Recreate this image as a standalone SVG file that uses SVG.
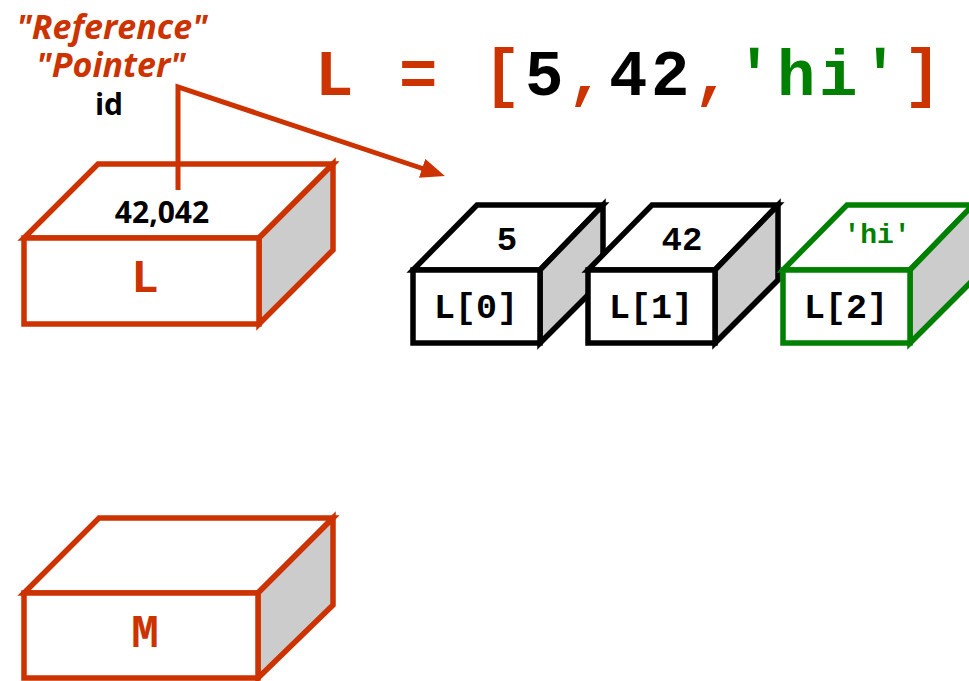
<svg xmlns="http://www.w3.org/2000/svg" width="969" height="681" viewBox="0 0 969 681">
<style>
  .red { stroke:#CC3300; }
  .blk { stroke:#000000; }
  .grn { stroke:#008000; }
  .box path, .box rect { stroke-width:5.5; stroke-linejoin:miter; }
  .face { fill:#FFFFFF; }
  .side { fill:#CCCCCC; }
  .mono { font-family:"Liberation Mono","Courier New",monospace; font-weight:bold; }
  .sans { font-family:"Open Sans","Liberation Sans",sans-serif; font-weight:bold; }
</style>
<defs>
  <marker id="arrow" viewBox="0 0 24 20" refX="2" refY="10" markerWidth="24" markerHeight="20" markerUnits="userSpaceOnUse" orient="auto">
    <path d="M0,0 L24,10 L0,20 z" fill="#CC3300"/>
  </marker>
</defs>

<g id="title">
  <text x="315" y="95" class="mono" font-size="64" letter-spacing="3.6" fill="#CC3300">L = [<tspan fill="#000000">5</tspan>,<tspan fill="#000000">42</tspan>,<tspan fill="#008000">'hi'</tspan>]</text>
</g>

<g id="labels">
  <text x="112" y="39" class="sans" font-style="italic" font-size="34" fill="#CC3300" text-anchor="middle">"Reference"</text>
  <text x="111" y="77" class="sans" font-style="italic" font-size="34" fill="#CC3300" text-anchor="middle">"Pointer"</text>
  <text x="109" y="115" class="sans" font-size="30" fill="#000000" text-anchor="middle">id</text>
</g>

<g id="box-L" class="box">
  <path class="face red" d="M24,238 L98,164 L333,164 L259,238 Z"/>
  <path class="side red" d="M259,238 L333,164 L333,250 L259,324 Z"/>
  <rect class="face red" x="24" y="238" width="235" height="86"/>
  <text x="162" y="223" class="sans" font-size="30" fill="#000000" text-anchor="middle">42,042</text>
  <text x="145" y="292" class="mono" font-size="46" fill="#CC3300" text-anchor="middle">L</text>
</g>

<g id="box-M" class="box">
  <path class="face red" d="M24,593 L99,518 L333,518 L258,593 Z"/>
  <path class="side red" d="M258,593 L333,518 L333,605 L258,678 Z"/>
  <rect class="face red" x="24" y="593" width="234" height="85"/>
  <text x="145" y="647" class="mono" font-size="46" fill="#CC3300" text-anchor="middle">M</text>
</g>

<g id="box-L0" class="box">
  <path class="face blk" d="M413,270 L477,205 L603,205 L540,270 Z"/>
  <path class="side blk" d="M540,270 L603,205 L603,280 L540,343 Z"/>
  <rect class="face blk" x="413" y="270" width="127" height="73"/>
  <text x="507" y="250" class="mono" font-size="34" fill="#000000" text-anchor="middle">5</text>
  <text x="476" y="318" class="mono" font-size="35" fill="#000000" text-anchor="middle">L[0]</text>
</g>

<g id="box-L1" class="box">
  <path class="face blk" d="M588,270 L652,205 L778,205 L715,270 Z"/>
  <path class="side blk" d="M715,270 L778,205 L778,280 L715,343 Z"/>
  <rect class="face blk" x="588" y="270" width="127" height="73"/>
  <text x="682" y="250" class="mono" font-size="34" fill="#000000" text-anchor="middle">42</text>
  <text x="651" y="318" class="mono" font-size="35" fill="#000000" text-anchor="middle">L[1]</text>
</g>

<g id="box-L2" class="box">
  <path class="face grn" d="M783,270 L847,205 L973,205 L910,270 Z"/>
  <path class="side grn" d="M910,270 L973,205 L973,280 L910,343 Z"/>
  <rect class="face grn" x="783" y="270" width="127" height="73"/>
  <text x="877" y="243" class="mono" font-size="28" fill="#008000" text-anchor="middle">'hi'</text>
  <text x="846" y="318" class="mono" font-size="35" fill="#000000" text-anchor="middle">L[2]</text>
</g>

<g id="connectors">
  <path d="M178,190 V87 L424,169" fill="none" stroke="#CC3300" stroke-width="5" stroke-linejoin="miter" marker-end="url(#arrow)"/>
</g>
</svg>
